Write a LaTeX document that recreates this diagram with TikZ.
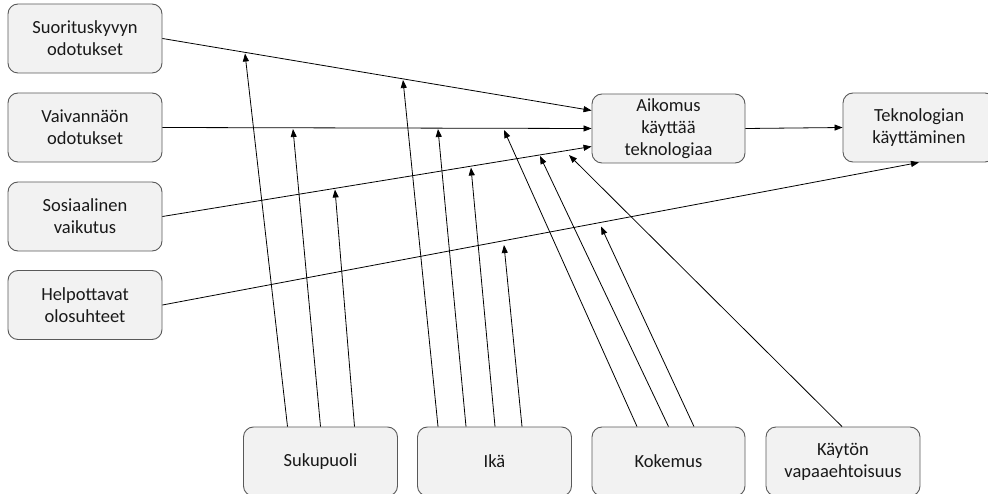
\documentclass[tikz,border=0pt]{standalone}
\usepackage{fontspec}
\setmainfont{Carlito}
\usetikzlibrary{arrows.meta}
\definecolor{boxfill}{HTML}{F2F2F2}
\definecolor{boxline}{HTML}{595959}
\begin{document}
\begin{tikzpicture}[x=1pt, y=-1pt,
	box/.style={draw=boxline, fill=boxfill, line width=0.9pt, rounded corners=10pt, minimum width=154pt, minimum height=69pt, inner sep=0pt, align=center, font=\fontsize{18.5}{22}\selectfont, text=black!90},
	arr/.style={-{Triangle[length=8pt,width=6pt]}, line width=0.8pt}]
		\useasboundingbox (0,0) rectangle (988,494);
		\node[box] (suor) at (85,38.5) {Suorituskyvyn\\odotukset};
		\node[box] (vaiv) at (85,127.5) {Vaivannäön\\odotukset};
		\node[box] (sos) at (85,216.5) {Sosiaalinen\\vaikutus};
		\node[box] (help) at (85,305) {Helpottavat\\olosuhteet};
		\node[box, minimum width=153pt] (aik) at (668.5,128.5) {Aikomus\\käyttää\\teknologiaa};
		\node[box, minimum width=152pt] (tek) at (919,127.5) {Teknologian\\käyttäminen};
		\node[box] (suk) at (320.5,461.5) {Sukupuoli};
		\node[box] (ika) at (494.5,461.5) {Ikä};
		\node[box, minimum width=153pt] (kok) at (668.5,461.5) {Kokemus};
		\node[box] (kay) at (843,461.5) {Käytön\\vapaaehtoisuus};
		\coordinate (s1) at (245,53.5);
		\coordinate (s2) at (293,129);
		\coordinate (s3) at (335,189.5);
		\coordinate (i1) at (403,80);
		\coordinate (i2) at (438,129);
		\coordinate (i3) at (471,167.5);
		\coordinate (i4) at (504,245);
		\coordinate (k1) at (504,130);
		\coordinate (k2) at (540,156);
		\coordinate (k3) at (601,226.5);
		\coordinate (v1) at (569,155);
		\draw[arr] (suor.east) -- ([yshift=18pt]aik.west);
		\draw[arr] (vaiv.east) -- (aik.west);
		\draw[arr] (sos.east) -- ([yshift=-18pt]aik.west);
		\draw[arr] (help.east) -- (tek.south);
		\draw[arr] (aik.east) -- (tek.west);
		\draw[arr] ([xshift=-33pt]suk.north) -- (s1);
		\draw[arr] (suk.north) -- (s2);
		\draw[arr] ([xshift=34pt]suk.north) -- (s3);
		\draw[arr] ([xshift=-56.5pt]ika.north) -- (i1);
		\draw[arr] ([xshift=-28.5pt]ika.north) -- (i2);
		\draw[arr] ([xshift=0.5pt]ika.north) -- (i3);
		\draw[arr] ([xshift=27.5pt]ika.north) -- (i4);
		\draw[arr] ([xshift=-31.5pt]kok.north) -- (k1);
		\draw[arr] (kok.north) -- (k2);
		\draw[arr] ([xshift=25.5pt]kok.north) -- (k3);
		\draw[arr] ([xshift=-1pt]kay.north) -- (v1);
\end{tikzpicture}
\end{document}
